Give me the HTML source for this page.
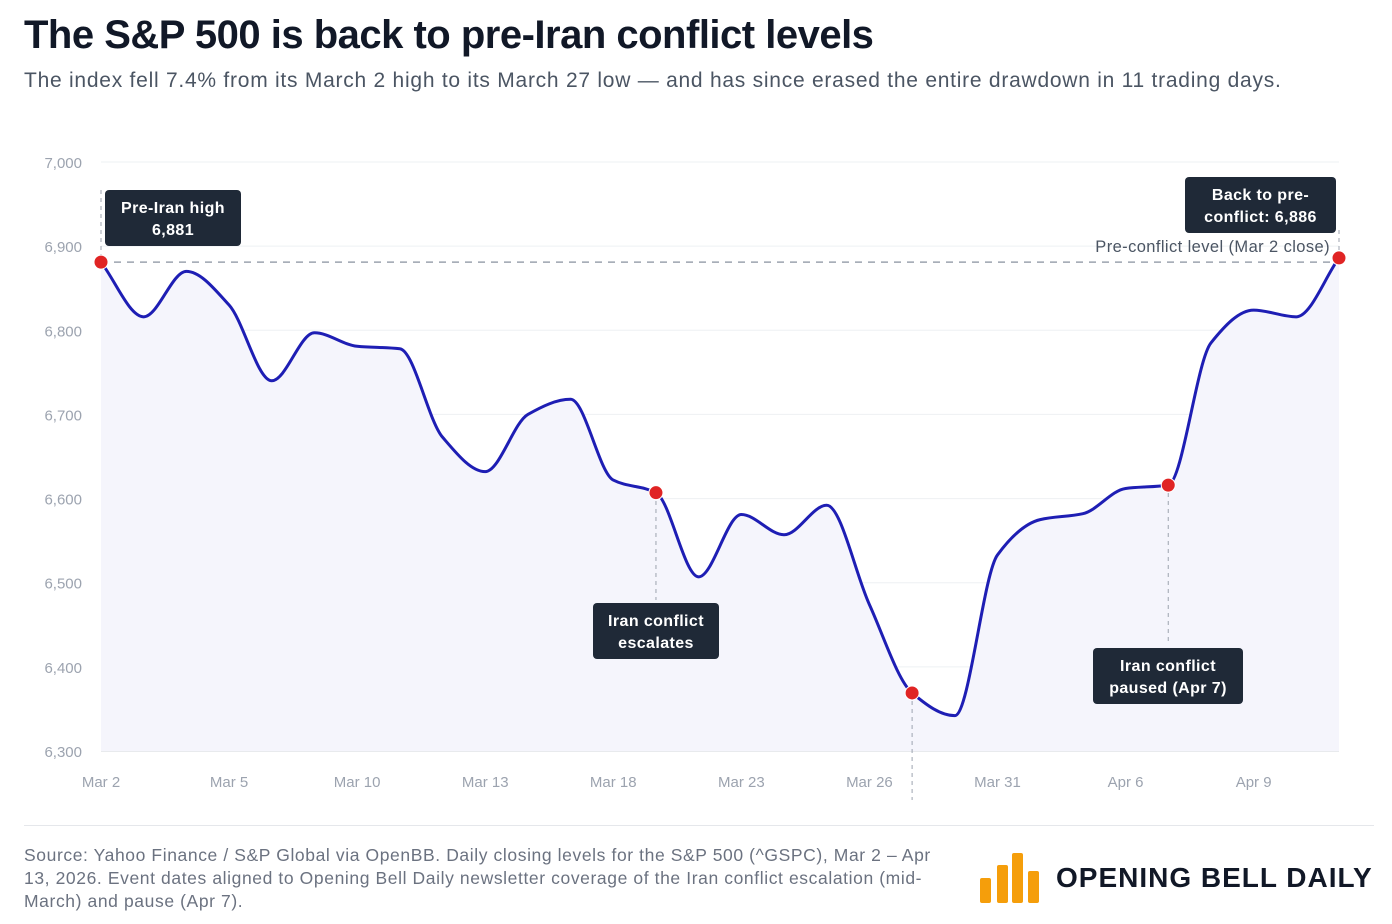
<!DOCTYPE html>
<html><head><meta charset="utf-8"><style>
body{margin:0;background:#fff;font-family:"Liberation Sans",sans-serif;}
#wrap{position:relative;width:1392px;height:924px;overflow:hidden}
h1{position:absolute;left:24px;top:13px;margin:0;font-size:40px;font-weight:bold;color:#111827;letter-spacing:-0.5px}
.sub{position:absolute;left:24px;top:69px;font-size:21px;color:#4b5563;letter-spacing:0.75px;white-space:nowrap}
.src{position:absolute;left:24px;top:844px;width:935px;font-size:17.5px;line-height:23px;color:#6b7280;letter-spacing:0.6px}
.logo{position:absolute;left:1056px;top:862px;font-size:28px;font-weight:bold;color:#111827;letter-spacing:1px}
</style></head><body>
<div id="wrap">
<h1>The S&amp;P 500 is back to pre-Iran conflict levels</h1>
<div class="sub">The index fell 7.4% from its March 2 high to its March 27 low — and has since erased the entire drawdown in 11 trading days.</div>
<svg id="chart" width="1392" height="924" style="position:absolute;left:0;top:0"></svg>
<div style="position:absolute;left:24px;top:825px;width:1350px;height:1px;background:#e5e7eb"></div>
<div class="src">Source: Yahoo Finance / S&amp;P Global via OpenBB. Daily closing levels for the S&amp;P 500 (^GSPC), Mar 2 – Apr 13, 2026. Event dates aligned to Opening Bell Daily newsletter coverage of the Iran conflict escalation (mid-March) and pause (Apr 7).</div>
<div>
<div style="position:absolute;left:980px;top:878px;width:11px;height:25px;background:#f59e0b;border-radius:2px"></div>
<div style="position:absolute;left:997px;top:865px;width:11px;height:38px;background:#f59e0b;border-radius:2px"></div>
<div style="position:absolute;left:1012px;top:853px;width:11px;height:50px;background:#f59e0b;border-radius:2px"></div>
<div style="position:absolute;left:1028px;top:871px;width:11px;height:32px;background:#f59e0b;border-radius:2px"></div>
</div>
<div class="logo">OPENING BELL DAILY</div>
</div>
<script>
const values=[6881,6816,6870,6830,6740,6797,6781,6778,6673,6632,6700,6718,6622,6607,6507,6581,6557,6592,6474,6369,6342,6533,6575,6582,6612,6616,6785,6824,6816,6886];
const tickIdx=[0,3,6,9,12,15,18,21,24,27];
const tickLabels=["Mar 2","Mar 5","Mar 10","Mar 13","Mar 18","Mar 23","Mar 26","Mar 31","Apr 6","Apr 9"];
const yTicks=[6300,6400,6500,6600,6700,6800,6900,7000];
const eventIdx=[0,13,19,25,29];
const NS="http://www.w3.org/2000/svg";
const svg=document.getElementById('chart');
const X=i=>101+i*(1339-101)/(values.length-1);
const Y=v=>751-(v-6300)*(751-162)/700;
function el(t,a,p){const e=document.createElementNS(NS,t);for(const k in a)e.setAttribute(k,a[k]);(p||svg).appendChild(e);return e;}
yTicks.forEach(v=>{
 const g=el('line',{x1:101,x2:1339,y1:Y(v),y2:Y(v),stroke:v==6300?'#d1d5db':'#eef0f3'});
 
 
 const t=el('text',{x:82,y:Y(v)+6,'text-anchor':'end','font-size':15,fill:'#9ca3af'});t.textContent=v.toLocaleString('en-US');
 
 
});
tickIdx.forEach((i,k)=>{const t=el('text',{x:X(i),y:787,'text-anchor':'middle','font-size':15,fill:'#9ca3af'});t.textContent=tickLabels[k];
 
 });
const P=values.map((v,i)=>[X(i),Y(v)]);
const n=P.length,dx=P[1][0]-P[0][0];
const s=[];for(let i=0;i<n-1;i++)s.push((P[i+1][1]-P[i][1])/dx);
const m=[];for(let i=0;i<n;i++){if(i==0)m.push(s[0]);else if(i==n-1)m.push(s[n-2]);else if(s[i-1]*s[i]<=0)m.push(0);else m.push(2/(1/s[i-1]+1/s[i]));}
let d='M'+P[0][0]+','+P[0][1];
for(let i=0;i<n-1;i++){const h=dx/3;d+=` C${P[i][0]+h},${P[i][1]+m[i]*h} ${P[i+1][0]-h},${P[i+1][1]-m[i+1]*h} ${P[i+1][0]},${P[i+1][1]}`;}
const area=el('path',{d:d+` L${X(n-1)},751 L${X(0)},751 Z`,fill:'#f5f5fc'});


const ref=el('line',{x1:101,x2:1339,y1:Y(values[0]),y2:Y(values[0]),stroke:'#9ca3af','stroke-dasharray':'7,6','stroke-width':1.5});


const rt=el('text',{x:1330,y:252,'text-anchor':'end','font-size':16.5,fill:'#4b5563','letter-spacing':0.4});rt.textContent='Pre-conflict level (Mar 2 close)';


[[13,493,600],[19,693,800],[25,485,645],[0,190,262],[29,230,262]].forEach(([i,a,b])=>{const l=el('line',{x1:X(i),x2:X(i),y1:a,y2:b,stroke:'#9ca3af','stroke-dasharray':'4,4'});
 
 });
const line=el('path',{d:d,fill:'none',stroke:'#1e1eb4','stroke-width':3});


eventIdx.forEach(i=>{const c=el('circle',{cx:X(i),cy:Y(values[i]),r:7,fill:'#e02424',stroke:'#fff','stroke-width':1});
 
 });
function box(x,y,w,h,lines,name){const g=el('g',{});
 
 
 el('rect',{x:x,y:y,width:w,height:h,rx:4,fill:'#1f2937'},g);
 lines.forEach((s,k)=>{const t=el('text',{x:x+w/2,y:y+h/2+(k-(lines.length-1)/2)*22+6,'text-anchor':'middle','font-size':16,'font-weight':'bold',fill:'#fff','letter-spacing':0.4},g);t.textContent=s;});}
box(105,190,136,56,['Pre-Iran high','6,881'],'annotation-pre-iran-high');
box(1185,177,151,56,['Back to pre-','conflict: 6,886'],'annotation-back-to-pre-conflict');
box(593,603,126,56,['Iran conflict','escalates'],'annotation-escalates');
box(1093,648,150,56,['Iran conflict','paused (Apr 7)'],'annotation-paused');
</script>
</body></html>
